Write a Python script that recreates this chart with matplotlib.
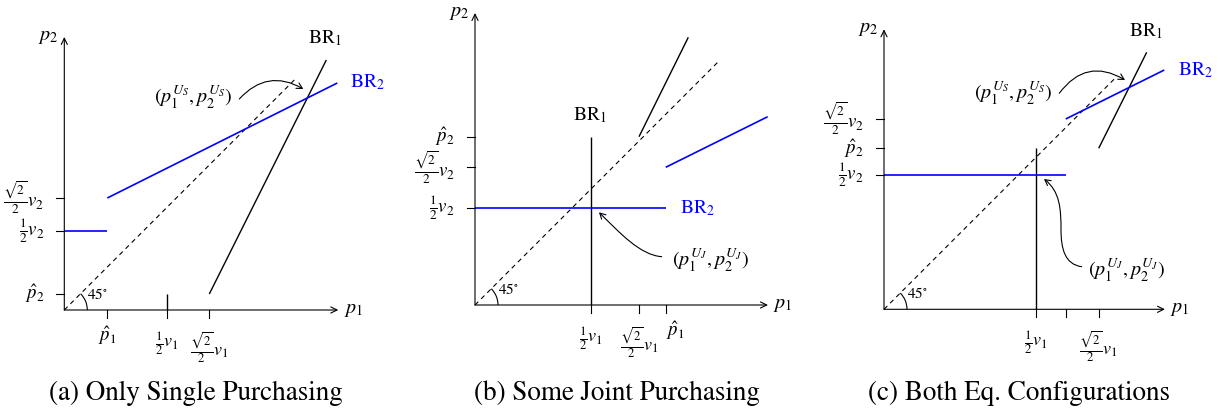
import matplotlib
matplotlib.use("Agg")
import matplotlib.pyplot as plt
from matplotlib.patches import Arc, FancyArrowPatch
from matplotlib.path import Path

plt.rcParams['font.family'] = ['STIXGeneral', 'DejaVu Serif']
plt.rcParams['mathtext.fontset'] = 'stix'

FRAC1 = r'$\frac{1}{2}v_%d$'
FRACR = r'$\frac{\sqrt{2}}{2}v_%d$'
HAT = r'$\hat{p}_%d$'

# panel (a) -- only single purchasing
a_xticks = [43, 103, 145]
a_xlabels = [HAT % 1, FRAC1 % 1, FRACR % 1]
a_yticks = [16, 79, 112]
a_ylabels = [HAT % 2, FRAC1 % 2, FRACR % 2]
a_br1_x = [(103, 103), (145, 262)]
a_br1_y = [(0, 16), (16, 250)]
a_br2_x = [(0, 43), (43, 273)]
a_br2_y = [(79, 79), (112, 227)]
a_diag = 230
a_axes = (274, 273)

# panel (b) -- some joint purchasing
b_xticks = [115.7, 164, 190.7]
b_xlabels = [FRAC1 % 1, FRACR % 1, HAT % 1]
b_yticks = [97, 137.7, 168.3]
b_ylabels = [FRAC1 % 2, FRACR % 2, HAT % 2]
b_br1_x = [(115.7, 115.7), (164, 213.3)]
b_br1_y = [(0, 168.3), (168.3, 267.7)]
b_br2_x = [(0, 190.7), (190.7, 292.7)]
b_br2_y = [(97, 97), (137.7, 188.3)]
b_diag = 244
b_axes = (293, 292)

# panel (c) -- both equilibrium configurations
c_xticks = [152.3, 181.7, 214.7]
c_xlabels = [FRAC1 % 1, '', FRACR % 1]
c_yticks = [134.7, 161, 190.3]
c_ylabels = [FRAC1 % 2, HAT % 2, FRACR % 2]
c_br1_x = [(152.3, 152.3), (214.7, 262.7)]
c_br1_y = [(0, 161), (161, 257)]
c_br2_x = [(0, 181.7), (181.7, 280.3)]
c_br2_y = [(134.7, 134.7), (190.3, 239.3)]
c_diag = 233
c_axes = (281, 280)

captions = ['(a) Only Single Purchasing', '(b) Some Joint Purchasing',
            '(c) Both Eq. Configurations']

US = r'$(p_1^{U_S}, p_2^{U_S})$'
UJ = r'$(p_1^{U_J}, p_2^{U_J})$'

W, H = 1221, 411
fig = plt.figure(figsize=(W / 100, H / 100), dpi=100)


def make_axes(left_px, width_px, ox, oy):
    # one data unit == one pixel, origin of the diagram at (ox, oy) from top-left
    ax = fig.add_axes([left_px / W, 0, width_px / W, 1])
    ax.set_xlim(left_px - ox, left_px + width_px - ox)
    ax.set_ylim(-(H - oy), oy)
    ax.axis('off')
    return ax


def draw_panel(ax, xticks, xlabels, yticks, ylabels, br1_x, br1_y,
               br2_x, br2_y, diag, axes_len, caption, cap_y, hat_dx=0):
    xl, yl = axes_len
    arrow = dict(arrowstyle='->,head_length=0.45,head_width=0.22', lw=0.8,
                 color='black', shrinkA=0, shrinkB=0)
    ax.annotate('', xy=(xl, 0), xytext=(0, 0), arrowprops=arrow)
    ax.annotate('', xy=(0, yl), xytext=(0, 0), arrowprops=arrow)
    ax.text(xl + 15, 0, r'$p_1$', fontsize=14.5, ha='center', va='center')
    ax.text(-16, yl, r'$p_2$', fontsize=14.5, ha='center', va='center')

    for x, lab in zip(xticks, xlabels):
        ax.plot([x, x], [0, -8], color='black', lw=0.8)
        if 'frac' in lab:
            ax.text(x, -20, lab, fontsize=13, ha='center', va='top')
        else:
            ax.text(x + hat_dx, -14, lab, fontsize=13.5, ha='center',
                    va='top')
    for y, lab in zip(yticks, ylabels):
        ax.plot([-8, 0], [y, y], color='black', lw=0.8)
        ax.text(-20, y, lab, fontsize=13.5, ha='right', va='center')

    ax.plot([0, diag], [0, diag], color='black', lw=0.8,
            linestyle=(0, (4.2, 3.6)))
    ax.add_patch(Arc((0, 0), 46, 46, theta1=0, theta2=45, color='black',
                     lw=0.8))
    ax.text(23, 16, r'45$^{\circ}$', fontsize=11, ha='left', va='center')

    for xs, ys in zip(br1_x, br1_y):
        ax.plot(xs, ys, color='black', lw=1.0, solid_capstyle='butt')
    for xs, ys in zip(br2_x, br2_y):
        ax.plot(xs, ys, color='#0000ff', lw=1.2, solid_capstyle='butt')

    ax.text(xl / 2 - 5, cap_y, caption, fontsize=19.5, ha='center',
            va='center')


def curved(ax, start, end, rad):
    ax.add_patch(FancyArrowPatch(start, end,
                 connectionstyle='arc3,rad=%s' % rad,
                 arrowstyle='->,head_length=4,head_width=2.2',
                 lw=0.8, color='black', shrinkA=0, shrinkB=0))


def s_curve(ax, pts):
    codes = [Path.MOVETO] + [Path.CURVE4] * (len(pts) - 1)
    ax.add_patch(FancyArrowPatch(path=Path(pts, codes),
                 arrowstyle='->,head_length=4,head_width=2.2',
                 lw=0.8, color='black'))


ax_a = make_axes(0, 407, 64.3, 310)
draw_panel(ax_a, a_xticks, a_xlabels, a_yticks, a_ylabels, a_br1_x, a_br1_y,
           a_br2_x, a_br2_y, a_diag, a_axes, captions[0], -83)
ax_a.text(261, 272, r'BR$_1$', fontsize=14, ha='center', va='center')
ax_a.text(286, 228, r'BR$_2$', fontsize=14, ha='left', va='center',
          color='#0000ff')
ax_a.text(129, 213, US, fontsize=14.5, ha='center', va='center')
curved(ax_a, (175, 211), (239, 221), -0.4)

ax_b = make_axes(407, 407, 475, 305)
draw_panel(ax_b, b_xticks, b_xlabels, b_yticks, b_ylabels, b_br1_x, b_br1_y,
           b_br2_x, b_br2_y, b_diag, b_axes, captions[1], -88, hat_dx=9)
ax_b.text(115, 190, r'BR$_1$', fontsize=14, ha='center', va='center')
ax_b.text(205, 97, r'BR$_2$', fontsize=14, ha='left', va='center',
          color='#0000ff')
ax_b.text(236, 45, UJ, fontsize=14.5, ha='center', va='center')
s_curve(ax_b, [(186.7, 48.3), (165, 50), (145, 72), (124, 92.7)])

ax_c = make_axes(814, 407, 884, 309.3)
draw_panel(ax_c, c_xticks, c_xlabels, c_yticks, c_ylabels, c_br1_x, c_br1_y,
           c_br2_x, c_br2_y, c_diag, c_axes, captions[2], -83.7)
ax_c.text(262, 278.6, r'BR$_1$', fontsize=14, ha='center', va='center')
ax_c.text(294, 239.3, r'BR$_2$', fontsize=14, ha='left', va='center',
          color='#0000ff')
ax_c.text(129.3, 216, US, fontsize=14.5, ha='center', va='center')
curved(ax_c, (175.3, 216), (241, 229.3), -0.45)
ax_c.text(243, 39.3, UJ, fontsize=14.5, ha='center', va='center')
s_curve(ax_c, [(197.7, 42.6), (181, 45), (177, 60), (177, 80),
               (177, 100), (176, 118), (160, 130.3)])

fig.savefig('out.png', dpi=100)
